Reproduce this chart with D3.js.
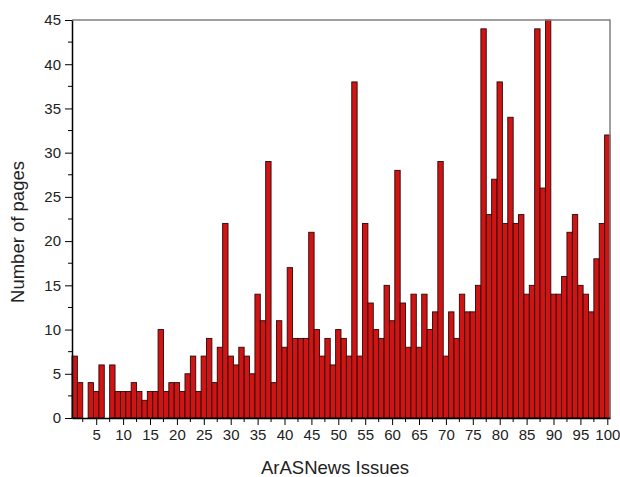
<!DOCTYPE html>
<html><head><meta charset="utf-8">
<script src="https://cdn.jsdelivr.net/npm/d3@7"></script>
<style>body{margin:0;background:#fff;} svg{display:block;}</style>
</head><body><svg id="c" width="620" height="477"></svg>
<script>
const issues = d3.range(1, 101);
const pages = [7,4,0,4,3,6,0,6,3,3,
  3,4,3,2,3,3,10,3,4,4,
  3,5,7,3,7,9,4,8,22,7,
  6,8,7,5,14,11,29,4,11,8,
  17,9,9,9,21,10,7,9,6,10,
  9,7,38,7,22,13,10,9,15,11,
  28,13,8,14,8,14,10,12,29,7,
  12,9,14,12,12,15,44,23,27,38,
  22,34,22,23,14,15,44,26,45,14,
  14,16,21,23,15,14,12,18,22,32];
const xTickLabels = [5,10,15,20,25,30,35,40,45,50,55,60,65,70,75,80,85,90,95,100];
const yTickLabels = [0,5,10,15,20,25,30,35,40,45];

const svg = d3.select("#c");
const m = {l:72, r:610, t:20, b:418};
const x = d3.scaleLinear().domain([0.5, 100.5]).range([m.l, m.r]);
const y = d3.scaleLinear().domain([0, 45]).range([m.b, m.t]);
const bw = x(1.5) - x(0.5);

svg.append("g").selectAll("rect").data(issues).join("rect")
  .attr("x", d => x(d - 0.5))
  .attr("y", (d,i) => y(Math.min(pages[i],45)))
  .attr("width", bw)
  .attr("height", (d,i) => y(0) - y(Math.min(pages[i],45)))
  .attr("fill", "#d01414")
  .attr("stroke", "#2a0808")
  .attr("stroke-width", 0.9);

// frame top/right
svg.append("path").attr("d", `M${m.l},${m.t}H${m.r}V${m.b}`)
  .attr("fill","none").attr("stroke","#808080").attr("stroke-width",1.5);

const font = "Liberation Sans, Arial, sans-serif";
// x axis
const xAxis = d3.axisBottom(x).tickValues(xTickLabels).tickSize(7).tickSizeOuter(0).tickPadding(4);
const gx = svg.append("g").attr("transform", `translate(0,${m.b})`).call(xAxis);
gx.selectAll("text").attr("font-size", 15).attr("font-family", font).attr("fill","#222");
gx.append("g").selectAll("line").data(d3.range(2.5, 100, 5)).join("line")
  .attr("x1", d => x(d)).attr("x2", d => x(d)).attr("y1", 0).attr("y2", 4)
  .attr("stroke", "#000");
gx.select(".domain").attr("stroke-width", 1.5);
// y axis
const yAxis = d3.axisLeft(y).tickValues(yTickLabels).tickSize(7).tickSizeOuter(0).tickPadding(4);
const gy = svg.append("g").attr("transform", `translate(${m.l},0)`).call(yAxis);
gy.selectAll("text").attr("font-size", 15).attr("font-family", font).attr("fill","#222");
gy.append("g").selectAll("line").data(d3.range(2.5, 45, 5)).join("line")
  .attr("y1", d => y(d)).attr("y2", d => y(d)).attr("x1", 0).attr("x2", -4)
  .attr("stroke", "#000");
gy.select(".domain").attr("stroke-width", 1.5);

svg.append("text").attr("x", 335).attr("y", 474).attr("text-anchor","middle")
  .attr("font-size", 18.5).attr("font-family", font).attr("fill","#222").text("ArASNews Issues");
svg.append("text").attr("transform", "translate(24,232) rotate(-90)").attr("text-anchor","middle")
  .attr("font-size", 18.5).attr("font-family", font).attr("fill","#222").text("Number of pages");
</script></body></html>
